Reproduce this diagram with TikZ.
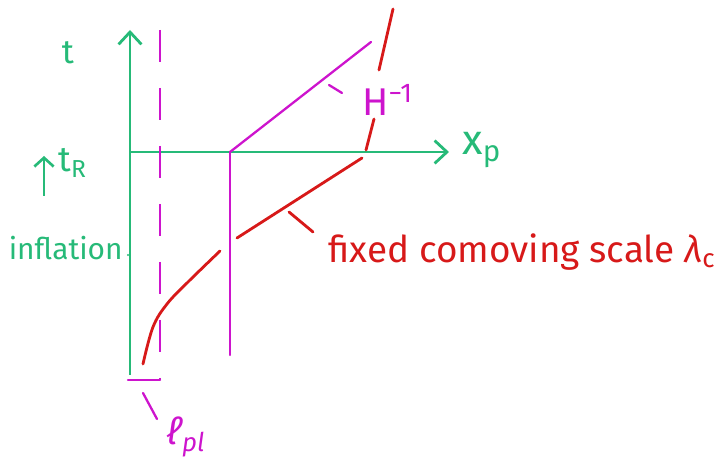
\documentclass[tikz,border=0pt]{standalone}
\usepackage{fontspec}
\setmainfont{Fira Sans}
\usetikzlibrary{arrows.meta}
\definecolor{grn}{RGB}{38,186,120}
\definecolor{mag}{RGB}{205,20,205}
\definecolor{rd}{RGB}{215,25,25}
\tikzset{
  ax/.style={grn, line width=1.6pt, -{Straight Barb[length=7pt,width=13pt,line width=1.6pt]}},
  mg/.style={mag, line width=1.3pt, line cap=round},
  rl/.style={rd, line width=1.6pt, line cap=round},
  gtxt/.style={text=grn, inner sep=0pt},
  mtxt/.style={text=mag, inner sep=0pt},
  rtxt/.style={text=rd, inner sep=0pt},
}
\begin{document}
\begin{tikzpicture}[x=0.02cm, y=-0.02cm]
\useasboundingbox (0,0) rectangle (717,465);
% axes
\coordinate (o) at (130,375);
\coordinate (ttop) at (130,30);
\coordinate (xl) at (130,152);
\coordinate (xr) at (449,152);
\draw[ax] (o) -- (ttop);
\draw[ax] (xl) -- (xr);
\node[gtxt, font=\fontsize{19}{19}\selectfont] (t) at (68,53) {t};
\node[gtxt, font=\fontsize{24}{24}\selectfont, anchor=west] (xp) at (462,150) {x\textsubscript{p}};
% t_R with arrow
\coordinate (ra) at (44,196);
\coordinate (rb) at (44,156);
\draw[grn, line width=1.5pt, -{Straight Barb[length=5pt,width=11pt,line width=1.5pt]}] (ra) -- (rb);
\node[gtxt, font=\fontsize{20}{20}\selectfont, anchor=west] (tR) at (58,163) {t\textsubscript{R}};
\node[gtxt, font=\fontsize{17}{17}\selectfont, anchor=east] (infl) at (123,248) {inflation};
\fill[grn] (128,255) circle (1.2);
% magenta dashed planck line
\coordinate (dtop) at (160,30);
\coordinate (dbot) at (160,380);
\coordinate (bl) at (128,380);
\draw[mg, dash pattern=on 18 off 15, line cap=butt] (dtop) -- (dbot);
\draw[mg] (bl) -- (dbot);
\coordinate (lt1) at (143,393);
\coordinate (lt2) at (157,419);
\draw[mg] (lt1) -- (lt2);
\node[mtxt, font=\fontsize{21}{21}\selectfont\itshape] (lpl) at (186,437) {ℓ\textsubscript{pl}};
% horizon lines
\coordinate (hc) at (230,152);
\coordinate (hb) at (230,355);
\coordinate (hd) at (371,42);
\draw[mg] (hc) -- (hb);
\draw[mg] (hc) -- (hd);
\coordinate (ht1) at (329,85);
\coordinate (ht2) at (342,93);
\draw[mg] (ht1) -- (ht2);
\node[mtxt, font=\fontsize{22}{22}\selectfont, anchor=west] (H) at (362,100) {H\textsuperscript{−1}};
% red comoving scale
\coordinate (r0) at (143,364);
\coordinate (r1) at (220,251);
\coordinate (r2) at (237,238);
\coordinate (r3) at (362,158);
\coordinate (r4) at (366,150);
\coordinate (r5) at (374,119);
\coordinate (r6) at (379,70);
\coordinate (r7) at (393,9);
\draw[rl] plot[smooth, tension=0.6] coordinates {(r0) (153,327) (167,304) (188,282) (r1)};
\draw[rl] (r2) -- (r3);
\draw[rl] (r4) -- (r5);
\draw[rl] (r6) -- (r7);
\coordinate (rt1) at (289,212);
\coordinate (rt2) at (313,232);
\draw[rl] (rt1) -- (rt2);
\node[rtxt, font=\fontsize{21}{21}\selectfont, anchor=west] (lab) at (328,252) {fixed comoving scale \textit{λ}\textsubscript{c}};
\end{tikzpicture}
\end{document}
